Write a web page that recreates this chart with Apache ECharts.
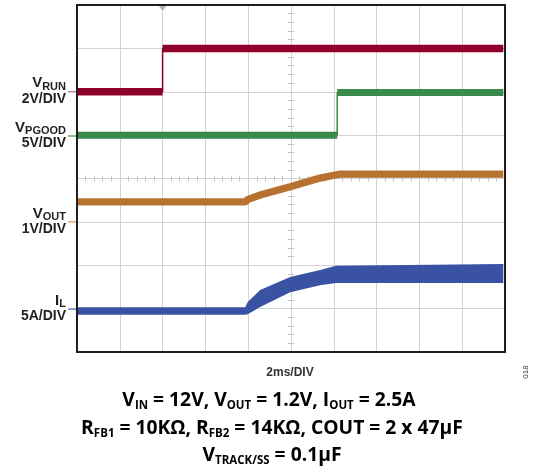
<!DOCTYPE html>
<html><head><meta charset="utf-8">
<script src="https://cdn.jsdelivr.net/npm/echarts@6/dist/echarts.min.js"></script>
<style>html,body{margin:0;padding:0;background:#fff}#c{width:534px;height:472px}</style>
</head><body><div id="c"></div>
<script>
// Time in horizontal divisions (2 ms/DIV), values in vertical screen divisions (0..8)
const vrunT   = [0, 2.0, 2.0, 9.96];
const vrunV   = [6.0, 6.0, 7.0, 7.0];
const vpgoodT = [0, 6.08, 6.08, 9.96];
const vpgoodV = [5.0, 5.0, 5.98, 5.98];
const voutT   = [0, 3.93, 4.0, 4.28, 4.98, 5.68, 6.03, 6.15, 9.96];
const voutV   = [3.46, 3.46, 3.52, 3.62, 3.81, 4.01, 4.08, 4.10, 4.10];
const ilT     = [0, 3.93, 3.99, 4.28, 4.98, 5.68, 6.05, 9.96];
const ilLo    = [0.86, 0.86, 0.87, 1.04, 1.38, 1.54, 1.59, 1.59];
const ilHi    = [1.03, 1.03, 1.15, 1.43, 1.73, 1.89, 1.99, 2.03];

const traceMain   = ['V', 'V', 'V', 'I'];
const traceSub    = ['RUN', 'PGOOD', 'OUT', 'L'];
const traceScale  = ['2V/DIV', '5V/DIV', '1V/DIV', '5A/DIV'];
const traceGround = [6.0, 4.98, 3.0, 0.99];
const traceColor  = ['#8e0029', '#3a8a4c', '#b77231', '#3a52a3'];
const markColor   = ['#c27282', '#4f9a60', '#d19a6a', '#5566b0'];

const xLabel = '2ms/DIV';
const figId = '018';
const captionLines = [
  [['V',0],['IN',1],[' = 12V, V',0],['OUT',1],[' = 1.2V, I',0],['OUT',1],[' = 2.5A',0]],
  [['R',0],['FB1',1],[' = 10KΩ, R',0],['FB2',1],[' = 14KΩ, COUT = 2 x 47μF',0]],
  [['V',0],['TRACK/SS',1],[' = 0.1μF',0]]
];

// layout
const G = {left: 77, top: 5, width: 428, height: 347};

const chart = echarts.init(document.getElementById('c'), null, {renderer: 'canvas'});

function pairs(T, V) { return T.map((t, i) => [t, V[i]]); }
function thickData(T, V) {
  const out = [];
  for (let i = 0; i < T.length; i++) {
    if (i > 0 && T[i] === T[i - 1]) out.push([T[i], '-']);
    out.push([T[i], V[i]]);
  }
  return out;
}
function traceSeries(T, V, color, w) {
  return [
    {type: 'line', data: pairs(T, V), symbol: 'none', silent: true,
     lineStyle: {color: color, width: 1.5}, z: 3},
    {type: 'line', data: thickData(T, V), symbol: 'none', silent: true, connectNulls: false,
     lineStyle: {color: color, width: w, cap: 'butt', join: 'miter'}, z: 4}
  ];
}

const gridCol = '#d2d2d2';
const borderCol = '#1e1e1e';
const tickAxisX = (inside) => ({
  type: 'value', min: 0, max: 10, interval: 1, position: 'bottom', offset: -G.height / 2,
  axisLine: {show: false}, axisLabel: {show: false}, splitLine: {show: false},
  axisTick: {show: false, inside: inside},
  minorTick: {show: true, splitNumber: 5, length: 3, lineStyle: {color: '#c4c4c4', width: 1}}
});
const tickAxisY = (inside) => ({
  type: 'value', min: 0, max: 8, interval: 1, position: 'left', offset: -G.width / 2,
  axisLine: {show: false}, axisLabel: {show: false}, splitLine: {show: false},
  axisTick: {show: false, inside: inside},
  minorTick: {show: true, splitNumber: 5, length: 3, lineStyle: {color: '#c4c4c4', width: 1}}
});

const series = [];
series.push(...traceSeries(vrunT, vrunV, traceColor[0], 7.5));
series.push(...traceSeries(vpgoodT, vpgoodV, traceColor[1], 7));
series.push({type: 'line', data: pairs(voutT, voutV), symbol: 'none', silent: true,
  lineStyle: {color: traceColor[2], width: 7.3, cap: 'butt'}, z: 4});
series.push({
  type: 'custom', data: [[0, 0]], silent: true, z: 4,
  renderItem: function (params, api) {
    const pts = [];
    for (let i = 0; i < ilT.length; i++) pts.push(api.coord([ilT[i], ilHi[i]]));
    for (let i = ilT.length - 1; i >= 0; i--) pts.push(api.coord([ilT[i], ilLo[i]]));
    return {type: 'polygon', shape: {points: pts}, style: {fill: traceColor[3]}};
  }
});
series[0].markPoint = {
  silent: true, animation: false,
  data: [{coord: [2, 8], symbol: 'triangle', symbolRotate: 180, symbolSize: [9, 6],
          symbolOffset: [0, 3], itemStyle: {color: '#b0b0b0'}, label: {show: false}}]
};

chart.setOption({
  animation: false,
  backgroundColor: '#ffffff',
  grid: {left: G.left, top: G.top, width: G.width, height: G.height, show: false},
  xAxis: [
    {type: 'value', min: 0, max: 10, interval: 1,
     axisLine: {show: false}, axisTick: {show: false}, axisLabel: {show: false},
     splitLine: {show: true, lineStyle: {color: gridCol, width: 1}}},
    tickAxisX(false), tickAxisX(true)
  ],
  yAxis: [
    {type: 'value', min: 0, max: 8, interval: 1,
     axisLine: {show: false}, axisTick: {show: false}, axisLabel: {show: false},
     splitLine: {show: true, lineStyle: {color: gridCol, width: 1}}},
    tickAxisY(false), tickAxisY(true)
  ],
  series: series
});

// annotations
const graphics = [];
graphics.push({type: 'rect', silent: true, zlevel: 1, z: 100,
  shape: {x: G.left, y: G.top, width: G.width, height: G.height},
  style: {fill: 'rgba(0,0,0,0)', stroke: borderCol, lineWidth: 2}});
const finder = {xAxisIndex: 0, yAxisIndex: 0};
const labFont = '"Liberation Sans", Arial, sans-serif';
for (let i = 0; i < traceMain.length; i++) {
  const p = chart.convertToPixel(finder, [0, traceGround[i]]);
  const y = p[1];
  graphics.push({type: 'line', silent: true,
    shape: {x1: G.left - 9, y1: y, x2: G.left - 1, y2: y},
    style: {stroke: markColor[i], lineWidth: 1.3}});
  graphics.push({type: 'text', silent: true, x: G.left - 11, y: y - 17.5,
    style: {
      text: '{m|' + traceMain[i] + '}{s|' + traceSub[i] + '}\n{d|' + traceScale[i] + '}',
      align: 'right', verticalAlign: 'top',
      rich: {
        m: {fontSize: 15, lineHeight: 18, fontWeight: 'bold', fontFamily: labFont, fill: '#231f20', align: 'right'},
        s: {fontSize: 11, lineHeight: 8, fontWeight: 'bold', fontFamily: labFont, fill: '#231f20', verticalAlign: 'bottom', align: 'right'},
        d: {fontSize: 14, lineHeight: 14, fontWeight: 'bold', fontFamily: labFont, fill: '#231f20', align: 'right'}
      }
    }});
}
graphics.push({type: 'text', silent: true, x: 290, y: 373,
  style: {text: xLabel, align: 'center', verticalAlign: 'middle',
          font: 'bold 12px "Liberation Sans", Arial, sans-serif', fill: '#333'}});
graphics.push({type: 'text', silent: true, x: 526, y: 372, rotation: Math.PI / 2,
  style: {text: figId, align: 'center', verticalAlign: 'middle',
          font: '8px "Liberation Sans", Arial, sans-serif', fill: '#444'}});

const capFont = '"Open Sans", "Noto Sans", sans-serif';
const capY = [401, 428.5, 456];
const capX = [269, 272, 272];
captionLines.forEach((line, li) => {
  const text = line.map(f => '{' + (f[1] ? 's' : 'm') + '|' + f[0] + '}').join('');
  graphics.push({type: 'text', silent: true, x: capX[li], y: capY[li] - 11,
    style: {text: text, align: 'center', verticalAlign: 'top',
      rich: {
        m: {fontSize: 19.3, lineHeight: 22, fontWeight: 'bold', fontFamily: capFont, fill: '#000'},
        s: {fontSize: 11.5, lineHeight: 10, fontWeight: 'bold', fontFamily: capFont, fill: '#000', verticalAlign: 'bottom'}
      }}});
});
chart.setOption({graphic: {elements: graphics}});
</script></body></html>
